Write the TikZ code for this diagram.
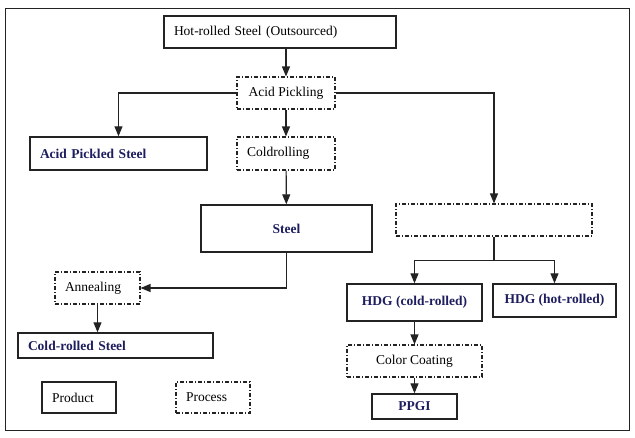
\documentclass[tikz,border=0pt]{standalone}
\usepackage{fontspec}
\setmainfont{Liberation Serif}
\usetikzlibrary{arrows.meta}
\definecolor{prodblue}{RGB}{30,30,95}
\definecolor{linegray}{RGB}{35,35,35}
\tikzset{
  base/.style={rectangle, draw=linegray, inner xsep=10pt, inner ysep=0pt,
               font=\fontsize{13.5}{15}\selectfont, anchor=center},
  prod/.style={base, line width=1.4pt, text=prodblue, font=\fontsize{13.5}{15}\selectfont\bfseries},
  hotprod/.style={base, line width=1.4pt},
  proc/.style={base, line width=1.1pt,
               dash pattern=on 4pt off 2pt on 1pt off 2pt},
  arr/.style={-{Triangle[length=10pt,width=8pt]}, line width=1.2pt, draw=linegray},
  conn/.style={line width=1.2pt, draw=linegray},
}
\begin{document}
\begin{tikzpicture}[x=1pt,y=-1pt]
  \useasboundingbox (0,0) rectangle (635,437);
  \draw[line width=1pt, linegray] (5,8) rectangle (629,430);

  % main line
  \node[hotprod, text width=212, minimum height=32, align=left] (hot) at (280,32) {Hot-rolled Steel (Outsourced)};
  \node[proc, minimum width=98, minimum height=32] (acid) at (286,93) {Acid Pickling};
  \node[prod, text width=157, minimum height=33, align=left] (aps) at (118.5,153.5) {Acid Pickled Steel};
  \node[proc, text width=78, minimum height=33, align=left] (coldr) at (286,153.5) {Coldrolling};
  \node[prod, minimum width=171, minimum height=47] (steel) at (286.5,228.5) {Steel};
  \node[proc, minimum width=196, minimum height=32] (galv) at (494,220) {};
  \node[proc, text width=65, minimum height=32, align=left] (anneal) at (97.5,288) {Annealing};
  \node[prod, text width=175, minimum height=25, align=left] (crs) at (115.5,345.5) {Cold-rolled Steel};

  % coating line
  \node[prod, minimum width=135, minimum height=37] (hdgc) at (414.5,302.5) {HDG (cold-rolled)};
  \node[prod, minimum width=123, minimum height=33] (hdgh) at (554.5,300.5) {HDG (hot-rolled)};
  \node[proc, minimum width=135, minimum height=32] (coat) at (414.5,361) {Color Coating};
  \node[prod, minimum width=85, minimum height=25] (ppgi) at (414.5,406.5) {PPGI};

  % legend
  \node[hotprod, text width=54, minimum height=31, align=left] (keyprod) at (79,397.5) {Product};
  \node[proc, text width=54, minimum height=31, align=left] (keyproc) at (213,397.5) {Process};

  \draw[arr] (acid.north |- hot.south) -- (acid.north);
  \draw[arr] (acid.west) -| (aps.north);
  \draw[arr] (acid) -- (coldr);
  \draw[arr] (acid.east) -| (galv.north);
  \draw[arr] (coldr) -- (steel);
  \draw[arr] (steel.south) |- (anneal.east);
  \draw[arr] (anneal.south) -- (anneal.south |- crs.north);
  \draw[conn] (galv.south) -- ++(0,24) coordinate (split);
  \draw[arr] (split) -| (hdgc.north);
  \draw[arr] (split) -| (hdgh.north);
  \draw[arr] (hdgc) -- (coat);
  \draw[arr] (coat) -- (ppgi);
\end{tikzpicture}
\end{document}
